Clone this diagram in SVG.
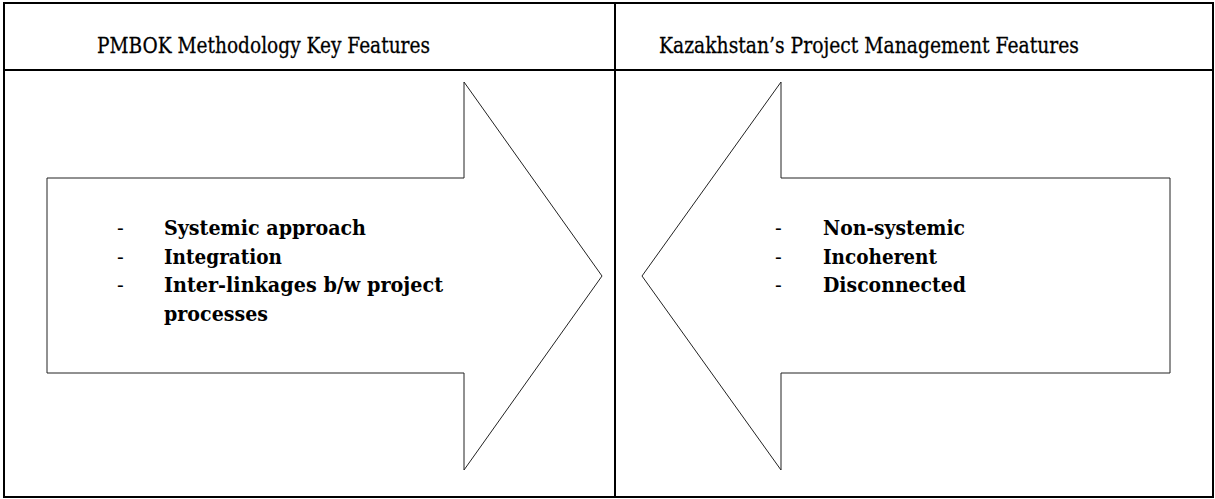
<svg xmlns="http://www.w3.org/2000/svg" width="1215" height="499" viewBox="0 0 1215 499">
<style>
.hdr{font-family:"DejaVu Serif","Liberation Serif",serif;font-size:23px;fill:#000;stroke:#000;stroke-width:0.3}
.item{font-family:"DejaVu Serif","Liberation Serif",serif;font-size:21px;font-weight:bold;fill:#000}
.dash{font-family:"DejaVu Serif","Liberation Serif",serif;font-size:20px;fill:#000}
.arrow{fill:#fff;stroke:#222;stroke-width:1}
.grid{fill:none;stroke:#000;stroke-width:2}
</style>
<rect width="1215" height="499" fill="#fff"/>
<g id="table">
<rect class="grid" x="4" y="3" width="1209" height="494"/>
<line class="grid" x1="4" y1="70" x2="1213" y2="70"/>
<line class="grid" x1="615" y1="3" x2="615" y2="497"/>
</g>
<g id="header-left">
<text class="hdr" x="97" y="53" textLength="333" lengthAdjust="spacingAndGlyphs">PMBOK Methodology Key Features</text>
</g>
<g id="header-right">
<text class="hdr" x="659" y="53" textLength="420" lengthAdjust="spacingAndGlyphs">Kazakhstan’s Project Management Features</text>
</g>
<g id="pmbok-arrow">
<polygon class="arrow" points="47,178 464,178 464,82 602,276 464,470 464,373 47,373"/>
<text class="dash" x="117" y="235">-</text>
<text class="dash" x="117" y="264">-</text>
<text class="dash" x="117" y="292">-</text>
<text class="item" x="164" y="235" textLength="202" lengthAdjust="spacingAndGlyphs">Systemic approach</text>
<text class="item" x="164" y="264" textLength="118" lengthAdjust="spacingAndGlyphs">Integration</text>
<text class="item" x="164" y="292" textLength="279" lengthAdjust="spacingAndGlyphs">Inter-linkages b/w project</text>
<text class="item" x="164" y="321" textLength="104" lengthAdjust="spacingAndGlyphs">processes</text>
</g>
<g id="kazakhstan-arrow">
<polygon class="arrow" points="1170,178 781,178 781,82 642,276 781,470 781,373 1170,373"/>
<text class="dash" x="775" y="235">-</text>
<text class="dash" x="775" y="264">-</text>
<text class="dash" x="775" y="292">-</text>
<text class="item" x="823" y="235" textLength="142" lengthAdjust="spacingAndGlyphs">Non-systemic</text>
<text class="item" x="823" y="264" textLength="114" lengthAdjust="spacingAndGlyphs">Incoherent</text>
<text class="item" x="823" y="292" textLength="143" lengthAdjust="spacingAndGlyphs">Disconnected</text>
</g>
<g id="connectors"></g>
</svg>
